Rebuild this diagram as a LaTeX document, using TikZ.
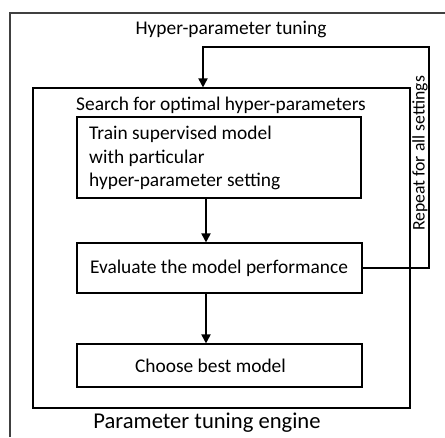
\documentclass[tikz,border=0pt]{standalone}
\usepackage{fontspec}
\setmainfont{Carlito}
\usetikzlibrary{arrows.meta,calc}
\begin{document}
\begin{tikzpicture}[x=1pt,y=-1pt,
  frame/.style={draw=black!75,line width=1.5pt},
  box/.style={draw,line width=1.1pt,rectangle,inner sep=0pt},
  lbl/.style={font=\fontsize{19.4}{23.5}\selectfont,inner sep=0pt},
  flow/.style={line width=1.8pt,-{Triangle[length=9pt,width=9pt]}},
]
\useasboundingbox (0,0) rectangle (445,437);
% outer frame, open to the right and bottom
\draw[frame] (10,437) -- (10,13) -- (446,13);
\node[lbl] (title) at (231,29) {Hyper-parameter tuning};
% search container
\node[box,minimum width=377pt,minimum height=320pt] (search) at (221.5,248) {};
\node[lbl] (searchlbl) at (221,105) {Search for optimal hyper-parameters};
% steps
\node[box,minimum width=284pt,minimum height=81pt] (train) at (219,157.5) {};
\node[lbl,anchor=west,align=left] (trainlbl) at (89,158) {Train supervised model\\with particular\\hyper-parameter setting};
\node[box,minimum width=285pt,minimum height=50pt] (eval) at (219.5,268) {};
\node[lbl] (evallbl) at (219,268) {Evaluate the model performance};
\node[box,minimum width=285pt,minimum height=43pt] (choose) at (219.5,365.5) {};
\node[lbl] (chooselbl) at (210.5,366) {Choose best model};
\node[lbl,font=\fontsize{22.6}{26}\selectfont] (engine) at (207,423) {Parameter tuning engine};
% flow arrows
\coordinate (ax) at (206,0);
\draw[flow] (train.south -| ax) -- (eval.north -| ax);
\draw[flow] (eval.south -| ax) -- (choose.north -| ax);
% feedback loop
\coordinate (r1) at (429,268);
\coordinate (r2) at (429,47);
\coordinate (r3) at (203,47);
\draw[flow] (eval.east) -- (r1) -- (r2) -- (r3) -- (r3 |- search.north);
\node[lbl,rotate=90,font=\fontsize{17.7}{20}\selectfont] (repeat) at (420,153.5) {Repeat for all settings};
\end{tikzpicture}
\end{document}
